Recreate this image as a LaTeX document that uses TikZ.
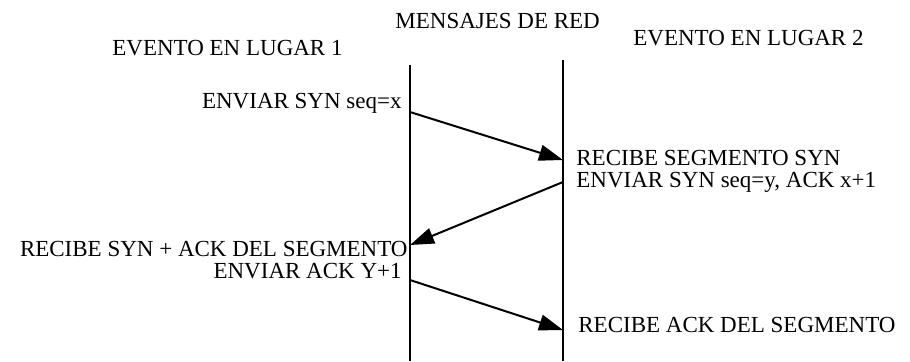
\documentclass[tikz,border=0pt]{standalone}
\usepackage{fontspec}
\setmainfont{Liberation Serif}
\usetikzlibrary{arrows.meta}

\tikzset{
  vida/.style={line width=1pt},
  msg/.style={line width=1pt, -{Triangle[length=12pt,width=8pt]}},
  izq/.style={anchor=base east, inner sep=0pt},
  der/.style={anchor=base west, inner sep=0pt}
}

\begin{document}
\begin{tikzpicture}[x=0.5pt, y=-0.5pt, font=\fontsize{11.5}{13}\selectfont]
	\useasboundingbox (0,0) rectangle (910,361);
	% titulos
	\node[anchor=base west, inner sep=0pt] (red) at (395,28) {MENSAJES DE RED};
	\node[anchor=base west, inner sep=0pt] (lugar1) at (112,55) {EVENTO EN LUGAR 1};
	\node[anchor=base west, inner sep=0pt] (lugar2) at (633,45) {EVENTO EN LUGAR 2};
	% lineas de tiempo
	\coordinate (a0) at (410,65);
	\coordinate (a1) at (410,361);
	\coordinate (b0) at (563,60);
	\coordinate (b1) at (563,361);
	\draw[vida] (a0) -- (a1);
	\draw[vida] (b0) -- (b1);
	% mensajes
	\coordinate (s1) at (410,112);
	\coordinate (r1) at (563,160);
	\coordinate (s2) at (563,182);
	\coordinate (r2) at (410,245);
	\coordinate (s3) at (410,280);
	\coordinate (r3) at (563,330);
	\draw[msg] (s1) -- (r1);
	\draw[msg] (s2) -- (r2);
	\draw[msg] (s3) -- (r3);
	% eventos
	\node[izq] (e1) at (402,108) {ENVIAR SYN seq=x};
	\node[der] (e2) at (576,165) {RECIBE SEGMENTO SYN};
	\node[der] (e3) at (576,187) {ENVIAR SYN seq=y, ACK x+1};
	\node[izq] (e4) at (408,256) {RECIBE SYN + ACK DEL SEGMENTO};
	\node[izq] (e5) at (402,278) {ENVIAR ACK Y+1};
	\node[der] (e6) at (578,332) {RECIBE ACK DEL SEGMENTO};
\end{tikzpicture}
\end{document}
